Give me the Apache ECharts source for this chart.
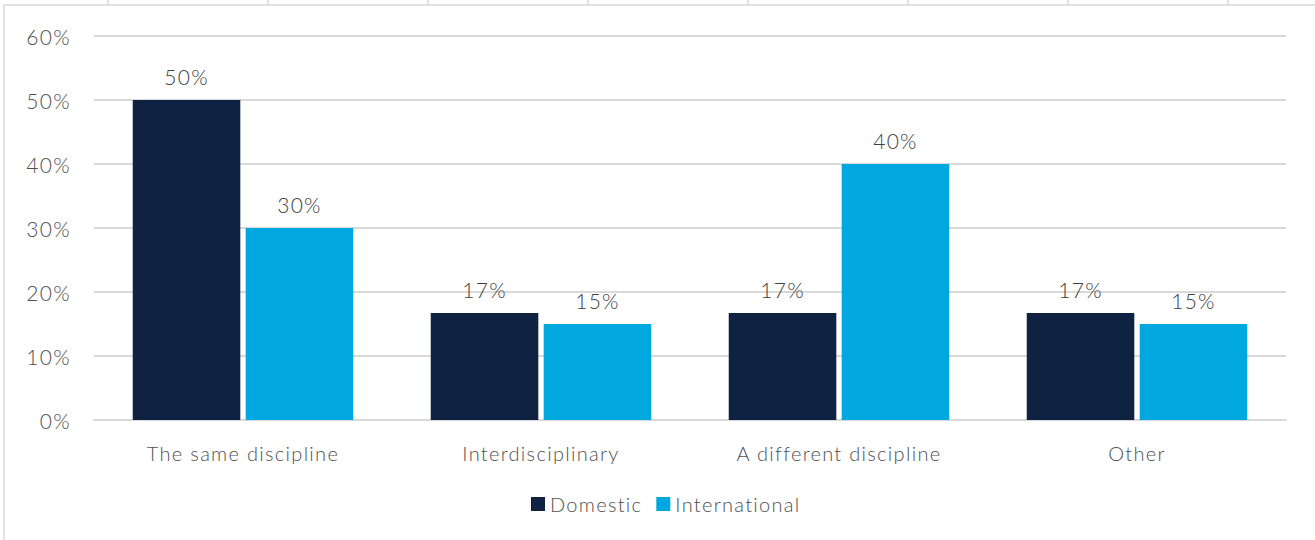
<!doctype html>
<html>
	<head>
		<meta charset="UTF-8">
		<title></title>
		<script src="https://cdn.jsdelivr.net/npm/echarts@6/dist/echarts.min.js"></script>
		<style type="text/css">
			html, body {
				margin: 0;
				padding: 0;
				background: #fff;
			}
			#chart {
				width: 1315px;
				height: 540px;
			}
			/* 字距加宽，接近原图字体 */
			#chart text {
				letter-spacing: 1.3px;
			}
		</style>
	</head>
	<body>
		<div id="chart"></div>
		<script type="text/javascript">
			// 数据
			var categories = ['The same discipline', 'Interdisciplinary', 'A different discipline', 'Other'];
			var domestic = [50, 16.7, 16.7, 16.7];
			var international = [30, 15, 40, 15];
			var yTicks = [0, 10, 20, 30, 40, 50, 60];

			var font = 'Lato';
			var textColor = '#505050';
			var chart = echarts.init(document.getElementById('chart'), null, { renderer: 'svg' });

			var labelCfg = {
				show: true,
				position: 'top',
				distance: 13,
				color: '#404040',
				fontFamily: font,
				fontWeight: 300,
				fontSize: 21,
				formatter: function (p) { return Math.round(p.value) + '%'; }
			};

			var gridLine = { stroke: '#d9d9d9', lineWidth: 1.5 };

			var option = {
				animation: false,
				backgroundColor: '#fff',
				// 背景的表格线
				graphic: [
					{ type: 'rect', shape: { x: 4, y: 5, width: 1320, height: 540 }, style: { fill: 'none', stroke: '#d9d9d9', lineWidth: 1.5 } },
					{ type: 'line', shape: { x1: 108, y1: 0, x2: 108, y2: 5 }, style: gridLine },
					{ type: 'line', shape: { x1: 268, y1: 0, x2: 268, y2: 5 }, style: gridLine },
					{ type: 'line', shape: { x1: 428, y1: 0, x2: 428, y2: 5 }, style: gridLine },
					{ type: 'line', shape: { x1: 588, y1: 0, x2: 588, y2: 5 }, style: gridLine },
					{ type: 'line', shape: { x1: 748, y1: 0, x2: 748, y2: 5 }, style: gridLine },
					{ type: 'line', shape: { x1: 908, y1: 0, x2: 908, y2: 5 }, style: gridLine },
					{ type: 'line', shape: { x1: 1068, y1: 0, x2: 1068, y2: 5 }, style: gridLine },
					{ type: 'line', shape: { x1: 1228, y1: 0, x2: 1228, y2: 5 }, style: gridLine }
				],
				grid: {
					left: 94,
					right: 29,
					top: 36,
					bottom: 120
				},
				legend: {
					bottom: 21,
					left: 'center',
					itemWidth: 14,
					itemHeight: 14,
					itemGap: 24,
					icon: 'rect',
					textStyle: { color: textColor, fontFamily: font, fontWeight: 300, fontSize: 20 },
					data: ['Domestic', 'International']
				},
				xAxis: {
					type: 'category',
					data: categories,
					axisLine: { show: true, lineStyle: { color: '#d9d9d9', width: 2 } },
					axisTick: { show: false },
					axisLabel: { color: textColor, fontFamily: font, fontWeight: 300, fontSize: 20, margin: 23 }
				},
				yAxis: {
					type: 'value',
					min: yTicks[0],
					max: yTicks[yTicks.length - 1],
					interval: 10,
					axisLine: { show: false },
					axisTick: { show: false },
					splitLine: { lineStyle: { color: '#d9d9d9', width: 2 } },
					axisLabel: {
						color: textColor,
						fontFamily: font,
						fontWeight: 300,
						fontSize: 21,
						margin: 23,
						formatter: '{value}%'
					}
				},
				series: [
					{
						name: 'Domestic',
						type: 'bar',
						data: domestic,
						barGap: '5%',
						barCategoryGap: '26%',
						itemStyle: { color: '#0f2242' },
						label: labelCfg
					},
					{
						name: 'International',
						type: 'bar',
						data: international,
						itemStyle: { color: '#00a8e0' },
						label: labelCfg
					}
				]
			};

			chart.setOption(option);
		</script>
	</body>
</html>
